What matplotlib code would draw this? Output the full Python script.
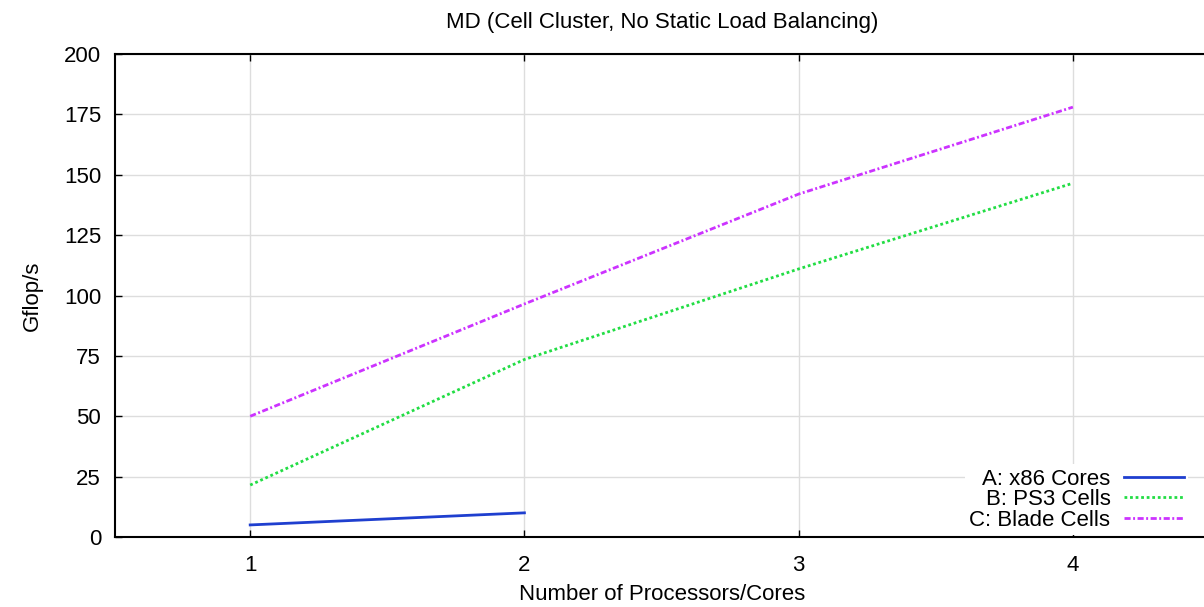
import matplotlib
matplotlib.use("Agg")
import matplotlib.pyplot as plt

plt.rcParams['font.family'] = ['Liberation Sans', 'DejaVu Sans']

# data
procs_a = [1, 2]
gflops_a = [5, 10]
procs_b = [1, 2, 3, 4]
gflops_b = [21.5, 73.5, 111, 146.5]
procs_c = [1, 2, 3, 4]
gflops_c = [50, 96.5, 142, 178]
xticks = [1, 2, 3, 4]
yticks = [0, 25, 50, 75, 100, 125, 150, 175, 200]

W, H = 1204, 607
fig = plt.figure(figsize=(W / 100, H / 100), dpi=100)
ax = fig.add_axes([115 / W, (H - 537) / H, 1095 / W, (537 - 54) / H])

ax.plot(procs_a, gflops_a, color='#1f3fcf', linewidth=2, label='A: x86 Cores')
ax.plot(procs_b, gflops_b, color='#22dd44', linewidth=2, linestyle=(0, (1, 1)), label='B: PS3 Cells')
ax.plot(procs_c, gflops_c, color='#cc33ff', linewidth=2, linestyle=(0, (2.2, 0.9, 0.7, 0.9)), label='C: Blade Cells')

ax.set_xlim(0.507, 4.5)
ax.set_ylim(0, 200)
ax.set_xticks(xticks)
ax.set_yticks(yticks)
ax.grid(True, color='#dddddd', linewidth=1)
ax.set_axisbelow(True)
ax.spines['right'].set_visible(False)
for s in ['left', 'bottom', 'top']:
    ax.spines[s].set_linewidth(1.5)
ax.tick_params(direction='in', length=5, width=1, top=True, labelsize=16)
ax.tick_params(axis='y', pad=10)
ax.tick_params(axis='x', pad=13)

ax.set_title('MD (Cell Cluster, No Static Load Balancing)', fontsize=16, pad=19)
ax.set_xlabel('Number of Processors/Cores', fontsize=16, labelpad=6)
ax.set_ylabel('Gflop/s', fontsize=16, labelpad=15)

leg = ax.legend(loc='lower right', bbox_to_anchor=(1188 / W, (H - 535) / H),
                bbox_transform=fig.transFigure, markerfirst=False,
                frameon=True, fontsize=16, handlelength=2.66, labelspacing=-0.03,
                borderpad=0.2, handletextpad=0.63, borderaxespad=0)
leg.get_frame().set_edgecolor('none')
leg.get_frame().set_alpha(1)
leg.get_frame().set_boxstyle('square', pad=0)
for t in leg.get_texts():
    t.set_ha('right')

fig.savefig('out.png', dpi=100)
